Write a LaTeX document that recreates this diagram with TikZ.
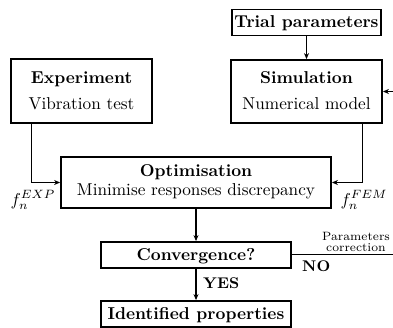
\documentclass[tikz,border=0pt]{standalone}
\usetikzlibrary{arrows.meta}
% block text: 10pt type enlarged as a whole
\newcommand{\bigtxt}[2][1.26]{\scalebox{1.72}{\renewcommand{\arraystretch}{#1}%
  \begin{tabular}{@{}c@{}}#2\end{tabular}}}
\begin{document}
\begin{tikzpicture}[x=1pt,y=-1pt,
  blk/.style={draw, line width=1.8pt, inner sep=0pt, align=center},
  conn/.style={line width=1.1pt},
  arr/.style={conn, -{Stealth[length=6pt,width=5pt]}},
  lbl/.style={inner sep=0pt}
]
\useasboundingbox (0,0) rectangle (393,327);

% blocks
\node[blk, minimum width=149pt, minimum height=25pt] (trial) at (306.5,22.5)
  {\bigtxt{\textbf{Trial parameters}}};
\node[blk, minimum width=151pt, minimum height=63pt] (sim) at (306.5,91.5)
  {\bigtxt{\textbf{Simulation}\\Numerical model}};
\node[blk, minimum width=141pt, minimum height=64pt] (exp) at (81.5,91)
  {\bigtxt{\textbf{Experiment}\\Vibration test}};
\node[blk, minimum width=270pt, minimum height=51pt] (opt) at (196,182.5)
  {\bigtxt[0.92]{\textbf{Optimisation}\\Minimise responses discrepancy}};
\node[blk, minimum width=190pt, minimum height=24pt] (conv) at (196,255)
  {\bigtxt{\textbf{Convergence?}}};
\node[blk, minimum width=190pt, minimum height=24pt] (ident) at (196,314)
  {\bigtxt{\textbf{Identified properties}}};

% connectors
\draw[arr] (trial) -- (sim);
\draw[arr] ([xshift=21pt]exp.south west) |- (opt.west);
\draw[arr] ([xshift=-20pt]sim.south east) |- (opt.east);
\draw[arr] (opt) -- (conv);
\draw[arr] (conv) -- (ident);
\coordinate (cr) at (393,254.5);
\coordinate (sr) at (393,91.5);
\draw[conn] (conv.east |- cr) -- (cr);
\draw[arr] (sr) -- (sim.east);

% labels
\node[lbl, anchor=west] (yes) at (203,283) {\scalebox{1.72}{\small\bfseries YES}};
\node[lbl, anchor=west] (no) at (302,266) {\scalebox{1.72}{\small\bfseries NO}};
\node[lbl] (pc) at (356,243)
  {\scalebox{1.72}{\scriptsize\renewcommand{\arraystretch}{0.75}%
   \begin{tabular}{@{}c@{}}Parameters\\correction\end{tabular}}};
\node[lbl] (fexp) at (33,200) {\scalebox{1.72}{$f_n^{EXP}$}};
\node[lbl] (ffem) at (364,200) {\scalebox{1.72}{$f_n^{FEM}$}};
\end{tikzpicture}
\end{document}
